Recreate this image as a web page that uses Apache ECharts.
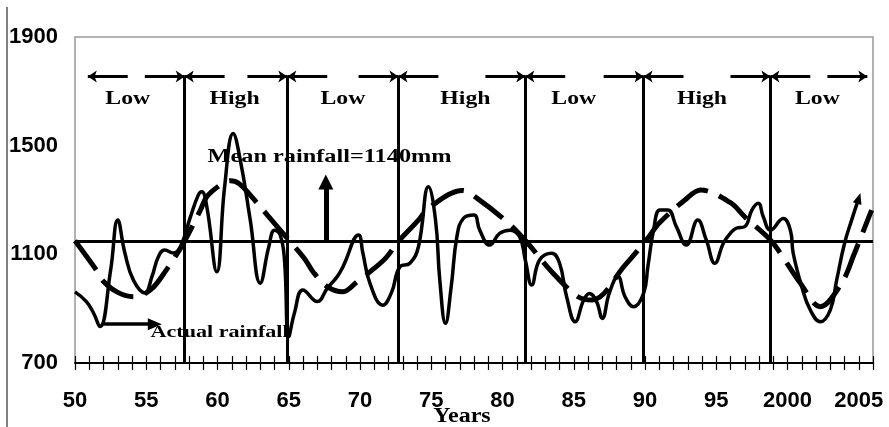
<!DOCTYPE html>
<html>
<head>
<meta charset="utf-8">
<script src="https://cdn.jsdelivr.net/npm/echarts@6/dist/echarts.min.js"></script>
<style>
html, body { margin: 0; padding: 0; background: #fff; }
#chart { width: 889px; height: 427px; }
</style>
</head>
<body>
<div id="chart"></div>
<script>
let chart = echarts.init(document.getElementById('chart'));

// actual rainfall [year, mm]
let actualRain = [
  [1950.0, 962], [1950.8, 926], [1951.3, 884], [1951.75, 834], [1952.5, 1042], [1953.0, 1226],
  [1953.5, 1105], [1954.1, 1005], [1954.9, 958], [1955.4, 1018], [1955.85, 1091], [1956.3, 1116],
  [1956.9, 1105], [1957.4, 1128], [1958.1, 1238], [1958.65, 1318], [1958.9, 1330], [1959.25, 1275],
  [1959.95, 1036], [1960.5, 1349], [1961.1, 1545], [1961.6, 1447], [1962.3, 1226], [1963.0, 994],
  [1963.6, 1128], [1964.0, 1189], [1964.4, 1171], [1964.7, 1079], [1965.0, 797], [1965.4, 884],
  [1966.0, 969], [1967.0, 926], [1967.7, 975], [1968.4, 1018], [1968.8, 1054], [1969.9, 1171],
  [1970.2, 1105], [1970.7, 993], [1971.6, 913], [1972.2, 958], [1972.8, 1054], [1973.5, 1067],
  [1974.1, 1128], [1974.8, 1349], [1975.3, 1226], [1975.6, 1005], [1976.0, 846], [1976.4, 981],
  [1976.8, 1165], [1977.25, 1232], [1978.0, 1245], [1978.4, 1189], [1979.1, 1134], [1979.8, 1177],
  [1980.5, 1189], [1981.2, 1165], [1981.6, 1079], [1982.05, 987], [1982.6, 1079], [1983.45, 1104],
  [1984.0, 1068], [1984.5, 944], [1985.1, 852], [1985.7, 932], [1986.1, 956], [1986.6, 926],
  [1987.0, 864], [1987.5, 958], [1988.1, 1018], [1988.6, 944], [1989.2, 907], [1989.9, 956],
  [1990.2, 1054], [1990.6, 1189], [1991.05, 1263], [1991.6, 1263], [1992.2, 1202], [1992.9, 1134],
  [1993.7, 1226], [1994.3, 1153], [1994.9, 1067], [1995.5, 1141], [1996.0, 1178], [1996.4, 1196],
  [1997.0, 1202], [1997.5, 1263], [1997.95, 1288], [1998.3, 1238], [1998.8, 1189], [1999.7, 1232],
  [2000.2, 1189], [2000.4, 1104], [2001.0, 981], [2001.6, 895], [2002.3, 852], [2003.0, 895],
  [2003.45, 1005], [2004.0, 1140], [2004.5, 1226], [2005.0, 1306]
];

// fitted wet/dry cycle (dashed)
let cycleRain = [
  [1950.0, 1150], [1951.5, 1042], [1952.0, 1000], [1953.0, 960], [1954.1, 944], [1955.3, 969],
  [1956.4, 1042], [1957.6, 1140], [1958.8, 1263], [1959.25, 1312], [1960.2, 1355], [1960.9, 1371],
  [1961.5, 1361], [1962.3, 1318], [1963.8, 1226], [1965.0, 1153], [1966.1, 1085], [1966.7, 1036],
  [1967.7, 981], [1968.8, 962], [1969.8, 999], [1970.8, 1040], [1971.8, 1086], [1972.7, 1148],
  [1974.1, 1226], [1974.8, 1270], [1977.2, 1335], [1978.2, 1307], [1980.3, 1220], [1981.65, 1148],
  [1983.45, 1036], [1985.3, 944], [1986.3, 932], [1988.6, 1060], [1990.2, 1160], [1991.0, 1215],
  [1992.8, 1300], [1993.9, 1337], [1996.0, 1290], [1997.0, 1238], [1998.8, 1153], [1999.5, 1104],
  [2000.9, 994], [2002.3, 907], [2003.8, 994], [2004.7, 1104], [2005.9, 1263]
];

let phaseBounds = [1950.9, 1957.7, 1964.9, 1972.7, 1981.6, 1989.9, 1998.8, 2005.6];
let phaseNames = ['Low', 'High', 'Low', 'High', 'Low', 'High', 'Low'];
let phaseLabelYears = [1953.7, 1961.2, 1968.8, 1977.4, 1985.0, 1994.0, 2002.1];
let meanRain = 1148;
let yTicks = [700, 1100, 1500, 1900];

let arrowRowY = 1755;
let phaseLabelY = 1671;
let arrowLen = 2.8;

let actualData = actualRain.map((p, i) => i === actualRain.length - 1
  ? { value: p, symbol: 'triangle', symbolSize: [9, 11], symbolRotate: -17 }
  : p);

let boundaryLines = phaseBounds.slice(1, -1).map(b => [{ coord: [b, 700] }, { coord: [b, arrowRowY] }]);

let rowArrows = [];
for (let i = 0; i < phaseBounds.length - 1; i++) {
  let a = phaseBounds[i], b = phaseBounds[i + 1];
  rowArrows.push([{ coord: [a + arrowLen, arrowRowY] }, { coord: [a, arrowRowY] }]);
  rowArrows.push([{ coord: [b - arrowLen, arrowRowY] }, { coord: [b, arrowRowY] }]);
}

let numFont = { fontFamily: '"Liberation Sans", Arial, sans-serif', fontWeight: 'bold', fontSize: 22, color: '#000' };

let options = {
  animation: false,
  grid: { left: 75, right: 16, top: 37, bottom: 64, show: true, borderColor: '#999', borderWidth: 1.5 },
  xAxis: [
    {
      type: 'value', min: 1950, max: 2006, interval: 1,
      axisLine: { lineStyle: { color: '#000', width: 2 } },
      axisTick: { inside: false, length: 7, lineStyle: { color: '#000', width: 1.2 } },
      axisLabel: Object.assign({
        margin: 27,
        formatter: v => v % 5 === 0 ? (v >= 2000 ? String(v) : String(v - 1900)) : ''
      }, numFont),
      splitLine: { show: false }
    },
    {
      type: 'value', min: 1950, max: 2006, interval: 1, position: 'bottom',
      axisLine: { show: false },
      axisTick: { inside: true, length: 7, lineStyle: { color: '#000', width: 1.2 } },
      axisLabel: { show: false },
      splitLine: { show: false }
    }
  ],
  yAxis: {
    type: 'value', min: 700, max: 1900,
    axisLine: { show: false },
    axisTick: { show: false },
    axisLabel: Object.assign({ margin: 17, customValues: yTicks, formatter: v => String(v) }, numFont),
    splitLine: { show: false }
  },
  series: [
    {
      name: 'cycle', type: 'line', data: cycleRain, smooth: 0.35, symbol: 'none',
      lineStyle: { color: '#000', width: 5, type: [36, 12], cap: 'butt' },
      z: 3
    },
    {
      name: 'actual', type: 'line', data: actualData, smooth: 0.45, symbol: 'none', showSymbol: true,
      itemStyle: { color: '#000' },
      lineStyle: { color: '#000', width: 3.5 },
      z: 4
    },
    {
      name: 'marks', type: 'line', data: [],
      markLine: {
        silent: true, symbol: 'none', label: { show: false },
        lineStyle: { color: '#000', width: 3, type: 'solid' },
        data: [{ yAxis: meanRain }].concat(boundaryLines)
      }
    },
    {
      name: 'rowArrows', type: 'line', data: [],
      markLine: {
        silent: true, symbol: ['none', 'arrow'], symbolSize: 9, label: { show: false },
        lineStyle: { color: '#000', width: 3, type: 'solid' },
        data: rowArrows
      }
    },
    {
      name: 'meanArrow', type: 'line', data: [],
      markLine: {
        silent: true, symbol: ['none', 'triangle'], symbolSize: [15, 15], label: { show: false },
        lineStyle: { color: '#000', width: 5, type: 'solid' },
        data: [[{ coord: [1967.6, meanRain] }, { coord: [1967.6, 1366] }]]
      }
    },
    {
      name: 'actualArrow', type: 'line', data: [],
      markLine: {
        silent: true, symbol: ['none', 'triangle'], symbolSize: [12, 14], label: { show: false },
        lineStyle: { color: '#000', width: 3.5, type: 'solid' },
        data: [[{ coord: [1952.0, 843] }, { coord: [1955.6, 843] }]]
      }
    }
  ]
};

chart.setOption(options);

let px = p => chart.convertToPixel({ gridIndex: 0 }, p);
let serif = sz => 'bold ' + sz + 'px "Liberation Serif", "Times New Roman", serif';

function textEl(text, pos, size, sx, align) {
  return {
    type: 'text', x: pos[0], y: pos[1], scaleX: sx, z: 10,
    style: {
      text: text, font: serif(size), fill: '#000',
      align: align, textAlign: align, verticalAlign: 'middle', textVerticalAlign: 'middle'
    }
  };
}

let graphics = phaseNames.map((n, i) => textEl(n, px([phaseLabelYears[i], phaseLabelY]), 18, 1.32, 'center'));
graphics.push(textEl('Mean rainfall=1140mm', px([1959.3, 1458]), 18, 1.35, 'left'));
graphics.push(textEl('Actual rainfall', px([1955.3, 813]), 17, 1.3, 'left'));
graphics.push(textEl('Years', [462, 417], 20, 1.2, 'center'));
graphics.push({ type: 'line', shape: { x1: 7, y1: 7, x2: 7, y2: 427 }, style: { stroke: '#000', lineWidth: 1 } });

chart.setOption({ graphic: graphics });
</script>
</body>
</html>
